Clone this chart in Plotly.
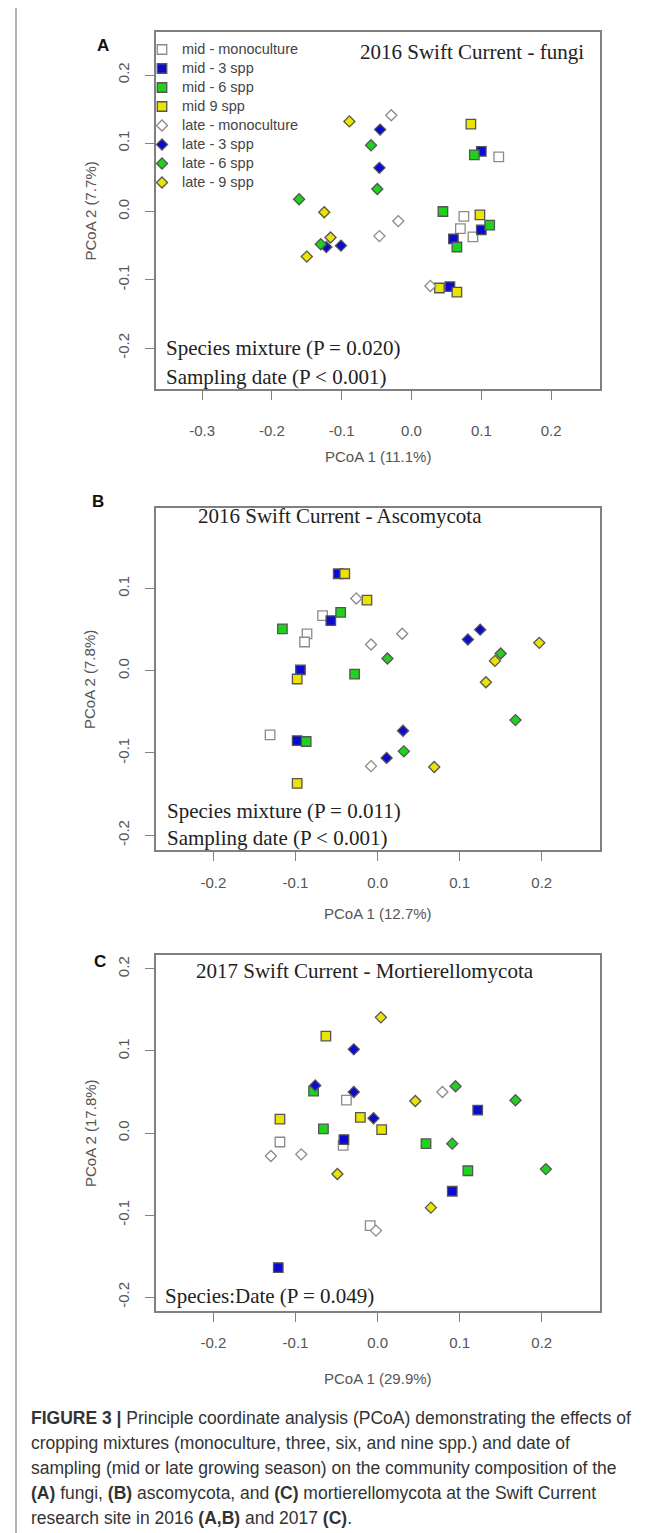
import plotly.graph_objects as go

W, H = 654, 1533

# ---------------- data ----------------
GROUP_KEYS = ["mm", "m3", "m6", "m9", "lm", "l3", "l6", "l9"]
GROUP_LABELS = ["mid - monoculture", "mid - 3 spp", "mid - 6 spp", "mid 9 spp",
                "late - monoculture", "late - 3 spp", "late - 6 spp", "late - 9 spp"]

A_GROUP = ["mm"] * 4 + ["m3"] * 4 + ["m6"] * 4 + ["m9"] * 4 + ["lm"] * 4 + ["l3"] * 4 + ["l6"] * 4 + ["l9"] * 4
A_PC1 = [0.125, 0.075, 0.070, 0.088,
         0.100, 0.100, 0.060, 0.055,
         0.090, 0.045, 0.112, 0.065,
         0.085, 0.098, 0.040, 0.065,
         -0.029, -0.019, -0.046, 0.027,
         -0.045, -0.046, -0.122, -0.101,
         -0.058, -0.161, -0.049, -0.130,
         -0.089, -0.125, -0.116, -0.150]
A_PC2 = [0.080, -0.007, -0.025, -0.037,
         0.088, -0.027, -0.040, -0.110,
         0.083, 0.000, -0.020, -0.052,
         0.128, -0.005, -0.112, -0.118,
         0.141, -0.014, -0.036, -0.109,
         0.120, 0.064, -0.052, -0.050,
         0.097, 0.018, 0.033, -0.048,
         0.132, -0.001, -0.038, -0.066]

B_GROUP = A_GROUP
B_PC1 = [-0.067, -0.086, -0.089, -0.131,
         -0.048, -0.057, -0.094, -0.098,
         -0.045, -0.116, -0.028, -0.087,
         -0.040, -0.013, -0.098, -0.098,
         -0.026, 0.030, -0.008, -0.008,
         0.031, 0.011, 0.110, 0.125,
         0.012, 0.032, 0.150, 0.168,
         0.069, 0.143, 0.197, 0.132]
B_PC2 = [0.067, 0.045, 0.035, -0.078,
         0.118, 0.061, 0.001, -0.085,
         0.071, 0.051, -0.004, -0.086,
         0.118, 0.086, -0.010, -0.137,
         0.088, 0.045, 0.032, -0.116,
         -0.073, -0.106, 0.038, 0.050,
         0.015, -0.098, 0.021, -0.060,
         -0.117, 0.012, 0.034, -0.014]

C_GROUP = A_GROUP
C_PC1 = [-0.038, -0.119, -0.042, -0.009,
         0.122, -0.041, 0.091, -0.121,
         -0.078, -0.066, 0.059, 0.110,
         -0.063, -0.119, -0.021, 0.005,
         0.079, -0.130, -0.093, -0.002,
         -0.029, -0.076, -0.029, -0.005,
         0.095, 0.168, 0.091, 0.205,
         0.004, 0.046, -0.049, 0.065]
C_PC2 = [0.040, -0.011, -0.015, -0.113,
         0.028, -0.008, -0.071, -0.164,
         0.051, 0.005, -0.013, -0.046,
         0.118, 0.017, 0.019, 0.004,
         0.050, -0.028, -0.026, -0.119,
         0.102, 0.058, 0.050, 0.018,
         0.057, 0.040, -0.013, -0.044,
         0.141, 0.039, -0.050, -0.091]

A_XTICKS = [-0.3, -0.2, -0.1, 0.0, 0.1, 0.2]
A_XTICKTEXT = ["-0.3", "-0.2", "-0.1", "0.0", "0.1", "0.2"]
BC_XTICKS = [-0.2, -0.1, 0.0, 0.1, 0.2]
BC_XTICKTEXT = ["-0.2", "-0.1", "0.0", "0.1", "0.2"]
YTICKS = [-0.2, -0.1, 0.0, 0.1, 0.2]
YTICKTEXT = ["-0.2", "-0.1", "0.0", "0.1", "0.2"]

PANEL_TITLES = ["2016 Swift Current - fungi", "2016 Swift Current - Ascomycota",
                "2017 Swift Current - Mortierellomycota"]
X_TITLES = ["PCoA 1 (11.1%)", "PCoA 1 (12.7%)", "PCoA 1 (29.9%)"]
Y_TITLES = ["PCoA 2 (7.7%)", "PCoA 2 (7.8%)", "PCoA 2 (17.8%)"]
STATS = [["Species mixture (P = 0.020)", "Sampling date (P < 0.001)"],
         ["Species mixture (P = 0.011)", "Sampling date (P < 0.001)"],
         ["Species:Date (P = 0.049)"]]
CAPTION = [
    "<b>FIGURE 3 |</b> Principle coordinate analysis (PCoA) demonstrating the effects of",
    "cropping mixtures (monoculture, three, six, and nine spp.) and date of",
    "sampling (mid or late growing season) on the community composition of the",
    "<b>(A)</b> fungi, <b>(B)</b> ascomycota, and <b>(C)</b> mortierellomycota at the Swift Current",
    "research site in 2016 <b>(A,B)</b> and 2017 <b>(C)</b>.",
]

# ---------------- style ----------------
FILL = {"m": "#ffffff", "3": "#0a0ad0", "6": "#1ed21e", "9": "#ebe400"}
EDGE = {"m": "#8a8a8a", "3": "#555555", "6": "#555555", "9": "#555555"}
SANS = "Liberation Sans, Arial, sans-serif"
SERIF = "Liberation Serif, Times New Roman, serif"
AXIS_COL = "#808080"
TICK_COL = "#555555"

# panel geometry in pixels (box left, right, top, bottom)
BOX_L, BOX_R = 148, 592
PANELS = [
    dict(top=24, bot=381, xr=[-0.366, 0.270], yr=[-0.260, 0.263], xt=A_XTICKS, xtt=A_XTICKTEXT,
         xstand=18, xtitle_y=448, letter="A", letter_xy=(95, 37), title_xy=(350, 44),
         stats_xy=[(156, 340), (156, 369)]),
    dict(top=500, bot=842, xr=[-0.270, 0.271], yr=[-0.218, 0.198], xt=BC_XTICKS, xtt=BC_XTICKTEXT,
         xstand=9, xtitle_y=905, letter="B", letter_xy=(90, 493), title_xy=(188, 508),
         stats_xy=[(157, 803), (157, 830)]),
    dict(top=947, bot=1303, xr=[-0.270, 0.271], yr=[-0.217, 0.217], xt=BC_XTICKS, xtt=BC_XTICKTEXT,
         xstand=8, xtitle_y=1370, letter="C", letter_xy=(92, 953), title_xy=(186, 963),
         stats_xy=[(155, 1288)]),
]
DATA = [(A_PC1, A_PC2, A_GROUP), (B_PC1, B_PC2, B_GROUP), (C_PC1, C_PC2, C_GROUP)]


def py(p):
    return 1 - p / H


def px(p):
    return p / W


fig = go.Figure()
annotations = []

for i, (panel, (xs, ys, gs)) in enumerate(zip(PANELS, DATA)):
    n = "" if i == 0 else str(i + 1)
    for key, label in zip(GROUP_KEYS, GROUP_LABELS):
        sel = [j for j, g in enumerate(gs) if g == key]
        late = key.startswith("l")
        fig.add_trace(go.Scatter(
            x=[xs[j] for j in sel], y=[ys[j] for j in sel],
            mode="markers", name='<span style="font-size:14.5px">' + label + "</span>",
            showlegend=(i == 0),
            xaxis="x" + n, yaxis="y" + n,
            marker=dict(symbol="diamond" if late else "square",
                        size=8.5 if late else 9.5,
                        color=FILL[key[1]],
                        line=dict(color=EDGE[key[1]], width=1.3)),
        ))
    axcommon = dict(showline=True, mirror=True, linecolor=AXIS_COL, linewidth=1.5,
                    ticks="outside", ticklen=9, tickwidth=1.3, tickcolor=AXIS_COL,
                    showgrid=False, zeroline=False,
                    tickfont=dict(family=SANS, size=15, color=TICK_COL))
    fig.layout["xaxis" + n] = dict(
        axcommon, domain=[px(BOX_L), px(BOX_R)], range=panel["xr"],
        anchor="y" + n, tickvals=panel["xt"], ticktext=panel["xtt"],
        ticklabelstandoff=panel["xstand"])
    fig.layout["yaxis" + n] = dict(
        axcommon, domain=[py(panel["bot"]), py(panel["top"])], range=panel["yr"],
        anchor="x" + n, tickvals=YTICKS, ticktext=YTICKTEXT, tickangle=-90,
        ticklabelstandoff=10)

    # panel letter
    lx, ly = panel["letter_xy"]
    annotations.append(dict(text="<b>" + panel["letter"] + "</b>", x=px(lx), y=py(ly),
                            xanchor="center", yanchor="middle",
                            xref="paper", yref="paper", showarrow=False,
                            font=dict(family=SANS, size=17, color="#111111")))
    # title
    tx, ty = panel["title_xy"]
    annotations.append(dict(text=PANEL_TITLES[i], x=px(tx), y=py(ty), xanchor="left",
                            yanchor="middle",
                            xref="paper", yref="paper", showarrow=False,
                            font=dict(family=SERIF, size=21, color="#222222")))
    # stats
    for s, (sx, sy) in zip(STATS[i], panel["stats_xy"]):
        annotations.append(dict(text=s, x=px(sx), y=py(sy), xanchor="left", yanchor="middle",
                                xref="paper", yref="paper", showarrow=False,
                                font=dict(family=SERIF, size=21, color="#222222")))
    # axis titles
    annotations.append(dict(text=X_TITLES[i], x=px((BOX_L + BOX_R) / 2), y=py(panel["xtitle_y"]),
                            xanchor="center", yanchor="middle",
                            xref="paper", yref="paper", showarrow=False,
                            font=dict(family=SANS, size=15, color=TICK_COL)))
    annotations.append(dict(text=Y_TITLES[i], x=px(82), y=py((panel["top"] + panel["bot"]) / 2),
                            xanchor="center", yanchor="middle",
                            textangle=-90, xref="paper", yref="paper", showarrow=False,
                            font=dict(family=SANS, size=15, color=TICK_COL)))

# caption
CAP_Y = [1410, 1435, 1460, 1485, 1510]
for line, cy in zip(CAPTION, CAP_Y):
    annotations.append(dict(text=line, x=px(21), y=py(cy), xanchor="left", yanchor="middle",
                            xref="paper", yref="paper", showarrow=False,
                            font=dict(family=SANS, size=17.5, color="#333333")))

fig.update_layout(
    width=W, height=H, autosize=False,
    margin=dict(l=0, r=0, t=0, b=0),
    paper_bgcolor="white", plot_bgcolor="white",
    annotations=annotations,
    legend=dict(x=px(134), y=py(27), xanchor="left", yanchor="top",
                bgcolor="rgba(0,0,0,0)", borderwidth=0,
                font=dict(family=SANS, size=12, color="#444444"),
                tracegroupgap=0),
    shapes=[dict(type="line", xref="paper", yref="paper", x0=px(8), x1=px(8), y0=0, y1=1,
                 line=dict(color="#9a9a9a", width=1.5))],
)

fig.write_html("out.html")
